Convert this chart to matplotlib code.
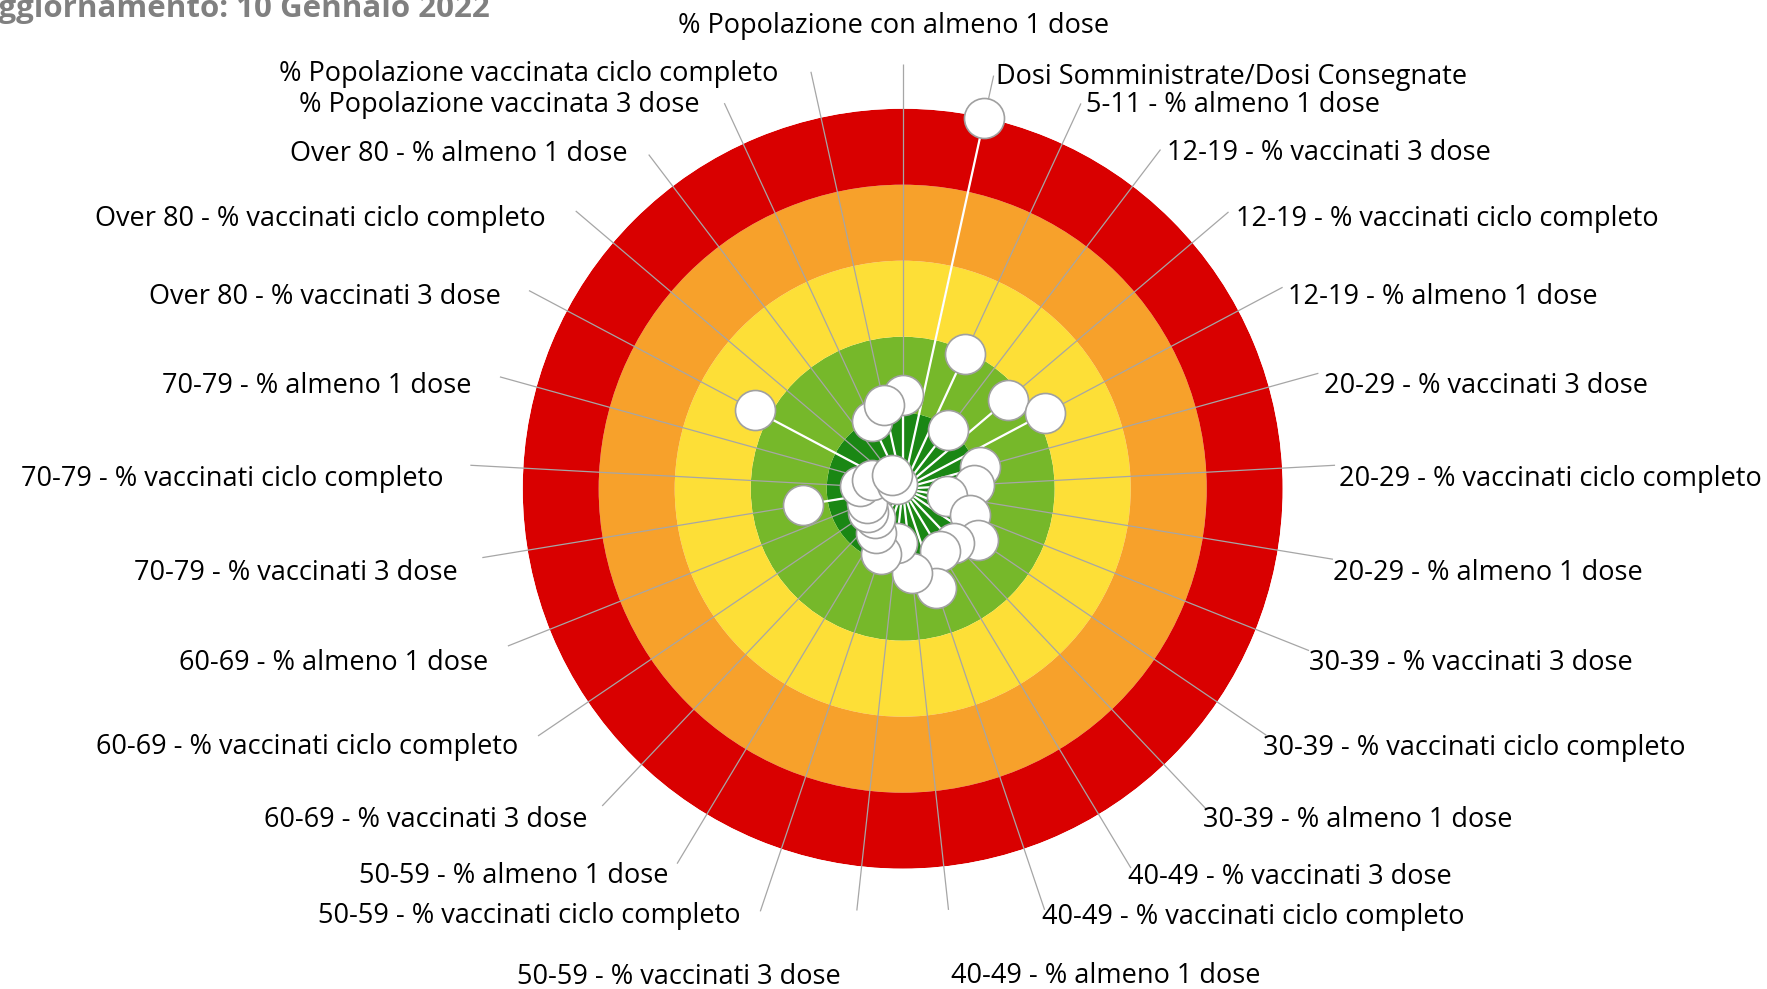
#%%
# import libraries
import numpy as np
import matplotlib as mpl
import matplotlib.pyplot as plt

mpl.rcParams['font.family'] = ['Open Sans', 'DejaVu Sans']

# ---------------- data ---------------- #
labels = ['% Popolazione con almeno 1 dose',
          'Dosi Somministrate/Dosi Consegnate',
          '5-11 - % almeno 1 dose',
          '12-19 - % vaccinati 3 dose',
          '12-19 - % vaccinati ciclo completo',
          '12-19 - % almeno 1 dose',
          '20-29 - % vaccinati 3 dose',
          '20-29 - % vaccinati ciclo completo',
          '20-29 - % almeno 1 dose',
          '30-39 - % vaccinati 3 dose',
          '30-39 - % vaccinati ciclo completo',
          '30-39 - % almeno 1 dose',
          '40-49 - % vaccinati 3 dose',
          '40-49 - % vaccinati ciclo completo',
          '40-49 - % almeno 1 dose',
          '50-59 - % vaccinati 3 dose',
          '50-59 - % vaccinati ciclo completo',
          '50-59 - % almeno 1 dose',
          '60-69 - % vaccinati 3 dose',
          '60-69 - % vaccinati ciclo completo',
          '60-69 - % almeno 1 dose',
          '70-79 - % vaccinati 3 dose',
          '70-79 - % vaccinati ciclo completo',
          '70-79 - % almeno 1 dose',
          'Over 80 - % vaccinati 3 dose',
          'Over 80 - % vaccinati ciclo completo',
          'Over 80 - % almeno 1 dose',
          '% Popolazione vaccinata 3 dose',
          '% Popolazione vaccinata ciclo completo']

# position of each indicator (0 = centre, 20 = outer edge)
values = [4.95, 20, 7.8, 3.9, 7.25, 8.5, 4.2, 3.75, 2.35, 3.8, 4.8, 3.95, 3.8, 5.5,
          4.45, 2.9, 3.65, 2.75, 2.15, 2.2, 2.0, 5.3, 2.25, 1.7, 8.8, 0.4, 0.9, 3.9, 4.5]

# coloured bands, inside -> outside
band_edges = [0, 4, 8, 12, 16, 20]
band_colors = ['#1a8714', '#76b82a', '#fddf37', '#f7a12b', '#d90000']

title = 'Aggiornamento: 10 Gennaio 2022'

# ---------------- layout ---------------- #
W, H = 1767, 989
cx, cy, R = 902.7, 488.7, 380.0      # centre and radius in pixels
rmax = band_edges[-1]
px = rmax / R                        # data units per pixel
pt = 0.72                            # points per pixel at dpi 100

# end of each leader line, in pixels from the centre
label_r_px = [425, 423, 424.5, 426, 427.5, 430, 431.4, 433, 436, 437.4, 439.2, 441.5,
              442.7, 444.4, 423.7, 424.3, 446, 437.6, 437, 440.6, 425, 426, 433, 418,
              423, 429, 419.7, 424.8, 426.9]
# shift of each label against its line end (pixels)
label_dx_px = [-9, 2, 5, 6, 7, 5, 6, 4, 0.5, -0.5, -3, -3, -3, -3, 2, -16,
               -20, -9, -14.5, -20, -20, -25, -27, -28, -28, -30, -21.5, -25, -32.5]
label_dy_px = [38, -1.5, -1.5, -3.5, -7, -10, -12.5, -14, -13.5, -12.5, -12.5, -10.5,
               -9, -7, -66, -66, -5, -12.5, -14, -11.5, -17, -15, -14, -9.5,
               -6, -8, 1, -1.5, -2.5]

n = len(labels)
theta = np.arange(n) * 2 * np.pi / n

# --------------- Create plot ------------------- #
fig = plt.figure(figsize=(W / 100, H / 100), dpi=100)
fig.set_facecolor('white')
ax = fig.add_axes([(cx - R) / W, (H - cy - R) / H, 2 * R / W, 2 * R / H], projection='polar')
ax.set_theta_zero_location('N')
ax.set_theta_direction(-1)
ax.set_ylim(0, rmax)
ax.patch.set_alpha(0)
ax.grid(False)
ax.set_xticks([])
ax.set_yticks([])
ax.spines['polar'].set_visible(False)

# bands
for lo, hi, c in zip(band_edges[:-1], band_edges[1:], band_colors):
    ax.bar(0, hi - lo, width=2 * np.pi, bottom=lo, color=c, linewidth=0, zorder=1)

# leader lines to the labels
label_r = np.array(label_r_px) * px
ax.vlines(theta, 0, label_r, color='#a6a6a6', linewidth=0.9, zorder=2, clip_on=False)

# white spokes and markers
ax.vlines(theta, 0, values, color='white', linewidth=1.6, zorder=3)
ax.scatter(theta, values, s=830, facecolor='white', edgecolor='#a0a0a0',
           linewidth=1.2, zorder=4, clip_on=False)

# labels
for i, (lab, t, r) in enumerate(zip(labels, theta, label_r)):
    if i == 0:
        ha = 'center'
    elif np.sin(t) > 0:
        ha = 'left'
    else:
        ha = 'right'
    ax.annotate(lab, xy=(t, r), xytext=(label_dx_px[i] * pt, label_dy_px[i] * pt),
                textcoords='offset points', ha=ha, va='center', fontsize=19.5,
                color='black', annotation_clip=False)

# title, partly off the canvas like the original
fig.text(-23 / W, 1 - 17 / H, title, ha='left', va='baseline',
         fontsize=22.5, fontweight='bold', color='#808080')

plt.savefig('out.png', dpi=100)
